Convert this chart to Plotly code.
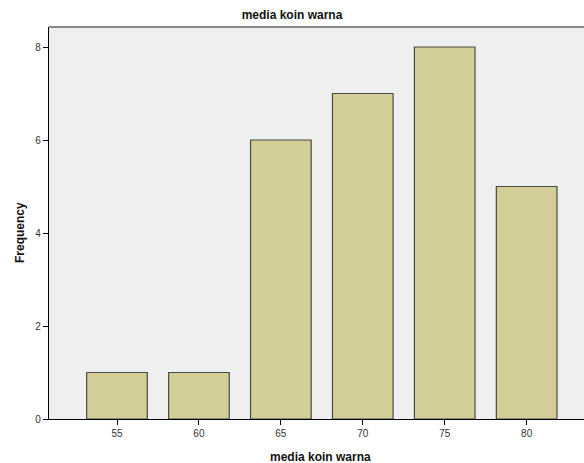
import plotly.graph_objects as go

categories = ["55", "60", "65", "70", "75", "80"]
frequency = [1, 1, 6, 7, 8, 5]
y_ticks = [0, 2, 4, 6, 8]

fig = go.Figure(go.Bar(
    x=categories, y=frequency,
    marker=dict(color="#D3CE97", line=dict(color="#4a4a44", width=1.2)),
    width=0.74,
))

fig.update_layout(
    width=584, height=463,
    margin=dict(l=49, r=0, t=27, b=44, autoexpand=False),
    paper_bgcolor="white", plot_bgcolor="#EFEFEF",
    showlegend=False,
    title=dict(text="<b>media koin warna</b>", x=292 / 584, xanchor="center",
               y=1 - 15/463, yanchor="middle",
               font=dict(family="Liberation Sans, Arial", size=12, color="#111")),
    font=dict(family="Liberation Sans, Arial", size=10, color="#333"),
)
fig.update_xaxes(
    type="category", range=[-0.83, 5.70], automargin=False,
    showline=True, linecolor="black", linewidth=1.2,
    ticks="outside", ticklen=5, tickcolor="black", showgrid=False,
)
fig.update_yaxes(
    range=[0, 8.43], tickvals=y_ticks, automargin=False,
    showline=True, linecolor="black", linewidth=1.2,
    ticks="outside", ticklen=5, tickcolor="black", showgrid=False, zeroline=False,
)
fig.add_shape(type="line", xref="paper", yref="paper", x0=0, x1=1, y0=1, y1=1,
              line=dict(color="#888", width=2), layer="above")
fig.add_annotation(text="<b>media koin warna</b>", xref="paper", yref="paper",
                   x=(320 - 49) / 535, y=-(457 - 419) / 392, showarrow=False,
                   xanchor="center", yanchor="middle",
                   font=dict(size=12, color="#111"))
fig.add_annotation(text="<b>Frequency</b>", xref="paper", yref="paper",
                   x=-(49 - 20) / 535, y=(419 - 233) / 392, showarrow=False,
                   textangle=-90, xanchor="center", yanchor="middle",
                   font=dict(size=12, color="#111"))

fig.write_html("out.html", config={"displayModeBar": False},
               post_script="document.body.style.margin='0px';document.body.style.overflow='hidden';")
